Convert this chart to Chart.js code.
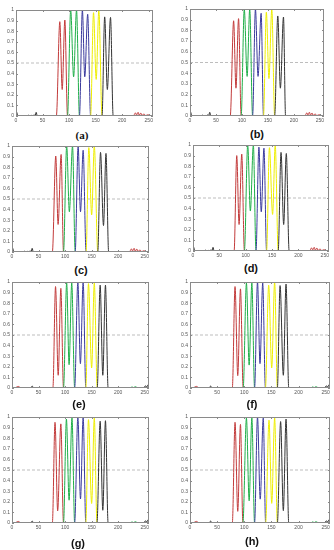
<!DOCTYPE html>
<html><head><meta charset="utf-8">
<script src="https://cdn.jsdelivr.net/npm/chart.js@4"></script>
<style>
body{margin:0;width:334px;height:550px;overflow:hidden;background:#fff;position:relative;font-family:"Liberation Sans",Arial,sans-serif}
canvas{position:absolute}
.lab{position:absolute;transform:translate(-50%,-50%);font-size:11px;font-weight:bold;color:#111;white-space:nowrap}
</style></head><body>
<script>
// ---------- data ----------
const PANEL_LABELS = ['(a)','(b)','(c)','(d)','(e)','(f)','(g)','(h)'];
const X_TICKS = [0,50,100,150,200,250];
const Y_TICKS = [0,0.1,0.2,0.3,0.4,0.5,0.6,0.7,0.8,0.9,1];
const X_MAX = 258;
const THRESHOLD = 0.5;

// two-peak curves per panel (a..h), [x, y]
const RED = [
  [[76,0],[82.5,0.89],[87,0.25],[92,0.905],[97,0]],
  [[77.5,0],[84,0.89],[88.5,0.26],[93.5,0.91],[98.5,0]],
  [[76,0],[82.4,0.905],[86.8,0.26],[92.5,0.92],[97,0]],
  [[78,0],[83,0.90],[87.4,0.25],[92.5,0.914],[97.5,0]],
  [[77,0],[82,0.957],[87,0.12],[92,0.94],[97,0]],
  [[78,0],[83,0.957],[88,0.117],[93,0.935],[98,0]],
  [[76,0],[81,0.95],[86,0.115],[92,0.935],[97,0]],
  [[78,0],[83,0.95],[88,0.11],[93,0.93],[97.5,0]]
];
const GREEN = [
  [[97,0],[103,1.0],[108.5,0.37],[114,1.0],[119.5,0]],
  [[98.5,0],[104.5,1.0],[110,0.37],[115,1.0],[120.5,0]],
  [[97,0],[103,1.0],[108,0.38],[114,1.0],[119,0]],
  [[97.5,0],[103.8,1.0],[108.8,0.377],[114.5,1.0],[119.5,0]],
  [[97,0],[103,0.99],[107.5,0.22],[112.5,0.99],[118,0]],
  [[98,0],[104,0.99],[109,0.216],[114,0.99],[119,0]],
  [[97,0],[102.5,0.98],[107.5,0.215],[113,0.99],[118,0]],
  [[97.5,0],[104,0.99],[109,0.21],[114,0.99],[119,0]]
];
const BLUE = [
  [[119.5,0],[125,1.0],[129.5,0.37],[135,0.96],[140.5,0]],
  [[120.5,0],[126,1.0],[131,0.37],[137,0.96],[141.5,0]],
  [[119,0],[124.5,1.0],[129,0.38],[134,0.96],[139.5,0]],
  [[119.5,0],[125,0.98],[129.5,0.37],[134.6,0.97],[139.6,0]],
  [[118,0],[124,1.0],[128.8,0.23],[134,1.0],[139,0]],
  [[119,0],[124.4,1.0],[129,0.23],[134,0.99],[139,0]],
  [[118,0],[124,1.0],[129,0.227],[134,1.0],[139,0]],
  [[119,0],[124.4,1.0],[129.4,0.225],[135,0.99],[139.4,0]]
];
const YELLOW = [
  [[140.5,0],[146,0.975],[151,0.345],[156,1.0],[162,0]],
  [[141.5,0],[147,0.97],[152,0.35],[157.5,1.0],[163,0]],
  [[139.5,0],[144.7,0.985],[150,0.35],[155,1.0],[161.5,0]],
  [[139.6,0],[145,0.975],[151,0.345],[156,1.0],[161.6,0]],
  [[139,0],[144,0.985],[150,0.19],[155,0.99],[160.5,0]],
  [[139,0],[145,0.97],[150.6,0.19],[156,1.0],[161,0]],
  [[139,0],[144,0.975],[150,0.184],[155,0.99],[160,0]],
  [[139.4,0],[145.6,0.97],[150.6,0.185],[156,0.99],[161,0]]
];
const BLACK = [
  [[162,0],[167,0.935],[172,0.25],[178,0.93],[183,0]],
  [[163,0],[169,0.935],[174,0.26],[180,0.925],[184,0]],
  [[161.5,0],[166.7,0.94],[172.3,0.25],[177,0.93],[182,0]],
  [[161.6,0],[167,0.93],[172,0.25],[177,0.92],[182.4,0]],
  [[160.5,0],[166,0.97],[171,0.12],[176,0.97],[181,0]],
  [[161,0],[166,0.966],[172,0.12],[177,0.98],[182,0]],
  [[160,0],[166,0.96],[171,0.12],[176,0.965],[181,0]],
  [[161,0],[167,0.957],[172,0.117],[177,0.98],[182,0]]
];
// low-level noise near the baseline
const NOISE_BLACK_AD = [[0,0.03],[1.5,0.035],[3,0.005],[6,0],[22,0],[24,0.008],[26,0],[29,0.006],[31,0],[34,0.01],[36,0.005],[38,0.035],[40,0]];
const NOISE_RED_AD = [[220,0],[223,0.015],[225,0.03],[227,0.01],[230,0.035],[232,0.008],[235,0.028],[237,0.005],[241,0.02],[244,0.004],[249,0.012],[252,0]];
const NOISE_BLACK_EH = [[0,0.01],[3,0],[35,0],[38,0.018],[41,0],[248,0],[251,0.02],[254,0.01],[256,0.03],[258,0.02]];
const NOISE_RED_EH = [[6,0],[9,0.01],[12,0.015],[15,0.005],[18,0]];
const NOISE_GREEN_EH = [[222,0],[226,0.01],[229,0.004],[232,0.012],[236,0.003],[240,0]];

// ---------- layout ----------
const GEOM = [[16,8,137,108],[190,7,134,109],[12,144,137,108],[193,143,136,108],
              [12,280,137,108],[190,280,140,108],[12,415,137,108],[190,415,140,108]];
const LABEL_POS = [[82,135],[257,134],[81,270],[251,268],[79,404],[252,404],[78,543],[252,541]];
const COLORS = {red:'#c23a3a',green:'#1fae48',blue:'#3a3a9c',yellow:'#eeee00',black:'#333333',dash:'#bdbdbd',frame:'#8a8a8a',tick:'#555'};

Chart.defaults.font.family = '"Liberation Sans", Arial, sans-serif';

function series(hump, noise){
  let pts = hump.concat(noise || []);
  pts.sort((a,b)=>a[0]-b[0]);
  if (pts[0][0] > 0) pts.unshift([0,0]);
  if (pts[pts.length-1][0] < X_MAX) pts.push([X_MAX,0]);
  return pts.map(p=>({x:p[0],y:p[1]}));
}
const frame = {
  id:'frame',
  afterDatasetsDraw(chart){
    const {ctx, chartArea:a, scales} = chart;
    ctx.save();
    ctx.strokeStyle = COLORS.frame; ctx.lineWidth = 1;
    ctx.beginPath();
    X_TICKS.forEach(v=>{const x=Math.round(scales.x.getPixelForValue(v))+0.5;
      ctx.moveTo(x,a.bottom); ctx.lineTo(x,a.bottom-2); ctx.moveTo(x,a.top); ctx.lineTo(x,a.top+2);});
    Y_TICKS.forEach(v=>{const y=Math.round(scales.y.getPixelForValue(v))+0.5;
      ctx.moveTo(a.left,y); ctx.lineTo(a.left+2,y); ctx.moveTo(a.right,y); ctx.lineTo(a.right-2,y);});
    ctx.stroke();
    ctx.strokeRect(Math.round(a.left)+0.5, Math.round(a.top)+0.5, Math.round(a.right-a.left)-1, Math.round(a.bottom-a.top)-1);
    ctx.restore();
  }
};
const YW=14, XH=11, PT=3, PR=4;
GEOM.forEach((g,i)=>{
  const [L,T,W,H] = g;
  const cw=W+YW+PR, ch=H+PT+XH;
  const c=document.createElement('canvas');
  c.width=cw; c.height=ch;
  Object.assign(c.style,{left:(L-YW)+'px',top:(T-PT)+'px',width:cw+'px',height:ch+'px'});
  document.body.appendChild(c);
  const lower = i>=4;
  const ds = (data,color)=>({data,borderColor:color,borderWidth:1,pointRadius:0,fill:false,cubicInterpolationMode:'monotone'});
  const datasets = [
    ds(series(BLACK[i], lower?NOISE_BLACK_EH:NOISE_BLACK_AD), COLORS.black),
    ds(series(YELLOW[i]), COLORS.yellow),
    ds(series(BLUE[i]), COLORS.blue),
    ds(series(GREEN[i], lower?NOISE_GREEN_EH:[]), COLORS.green),
    ds(series(RED[i], lower?NOISE_RED_EH:NOISE_RED_AD), COLORS.red),
    {data:[{x:0,y:THRESHOLD},{x:X_MAX,y:THRESHOLD}],borderColor:COLORS.dash,borderWidth:1,borderDash:[3,2],pointRadius:0,tension:0}
  ];
  new Chart(c,{
    type:'line',
    data:{datasets},
    options:{
      responsive:false, animation:false, events:[],
      layout:{padding:{top:PT,right:PR,left:0,bottom:0}},
      plugins:{legend:{display:false},tooltip:{enabled:false}},
      scales:{
        x:{type:'linear',min:0,max:X_MAX,
           afterBuildTicks:s=>{s.ticks=X_TICKS.map(v=>({value:v}));},
           afterFit:s=>{s.height=XH;},
           grid:{display:false,drawTicks:false},border:{display:false},
           ticks:{font:{size:5},color:COLORS.tick,padding:2,maxRotation:0,autoSkip:false}},
        y:{type:'linear',min:0,max:1,
           afterBuildTicks:s=>{s.ticks=Y_TICKS.map(v=>({value:v}));},
           afterFit:s=>{s.width=YW;},
           grid:{display:false,drawTicks:false},border:{display:false},
           ticks:{font:{size:5},color:COLORS.tick,padding:2,autoSkip:false,callback:v=>String(+(+v).toFixed(1))}}
      }
    },
    plugins:[frame]
  });
  const lab=document.createElement('div');
  lab.className='lab'; lab.textContent=PANEL_LABELS[i];
  if(i===0) lab.style.fontFamily='"Liberation Serif","Times New Roman",serif';
  lab.style.left=LABEL_POS[i][0]+'px'; lab.style.top=LABEL_POS[i][1]+'px';
  document.body.appendChild(lab);
});
</script>
</body></html>
